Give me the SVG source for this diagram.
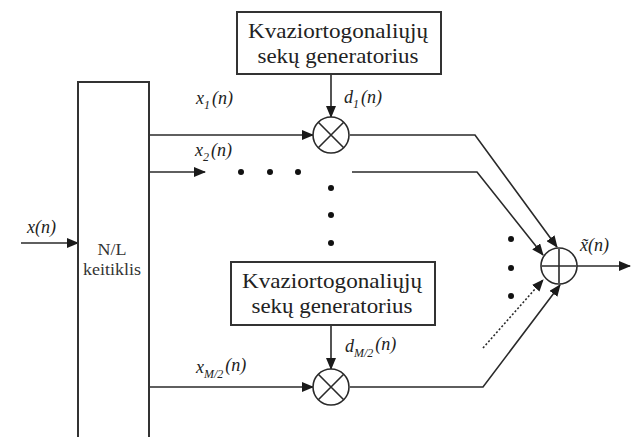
<svg xmlns="http://www.w3.org/2000/svg" width="634" height="437" viewBox="0 0 634 437">
<defs>
<marker id="ah" markerWidth="12" markerHeight="10" refX="11" refY="5" orient="auto" markerUnits="userSpaceOnUse">
<path d="M0,0 L12,5 L0,10 Z" fill="#1a1a1a"/>
</marker>
<style>
.box{fill:#fff;stroke:#333;stroke-width:2}
.ln{fill:none;stroke:#2a2a2a;stroke-width:1.6}
.dot{fill:#111}
.op{fill:#fff;stroke:#2a2a2a;stroke-width:1.6}
text{font-family:'Liberation Serif','DejaVu Serif',serif}
.bt{font-size:22px;fill:#222;text-anchor:middle}
.nt{font-size:17px;fill:#333;text-anchor:middle}
.m{font-style:italic;font-size:18px;fill:#222}
.s{font-size:12px}
</style>
</defs>
<rect width="634" height="437" fill="#fff"/>
<g id="connectors">
<line class="ln" x1="21" y1="243" x2="78" y2="243" marker-end="url(#ah)"/>
<line class="ln" x1="149" y1="135" x2="313" y2="135" marker-end="url(#ah)"/>
<line class="ln" x1="149" y1="172" x2="205" y2="172" marker-end="url(#ah)"/>
<line class="ln" x1="149" y1="387" x2="313" y2="387" marker-end="url(#ah)"/>
<line class="ln" x1="331" y1="74" x2="331" y2="117" marker-end="url(#ah)"/>
<line class="ln" x1="331" y1="325" x2="331" y2="369" marker-end="url(#ah)"/>
<polyline class="ln" points="350,135 475,135 557,247" marker-end="url(#ah)"/>
<polyline class="ln" points="352,172 477,172 543,255" marker-end="url(#ah)"/>
<polyline class="ln" points="350,387 483,387 560,285" marker-end="url(#ah)"/>
<line class="ln" x1="483" y1="348" x2="543" y2="280" stroke-dasharray="2,2" marker-end="url(#ah)"/>
<line class="ln" x1="577" y1="266" x2="630" y2="266" marker-end="url(#ah)"/>
</g>
<g id="dots">
<circle class="dot" cx="241" cy="172" r="3"/>
<circle class="dot" cx="270" cy="172" r="3"/>
<circle class="dot" cx="298" cy="172" r="3"/>
<circle class="dot" cx="331" cy="188" r="3"/>
<circle class="dot" cx="331" cy="215" r="3"/>
<circle class="dot" cx="331" cy="243" r="3"/>
<circle class="dot" cx="511" cy="239" r="3"/>
<circle class="dot" cx="511" cy="268" r="3"/>
<circle class="dot" cx="511" cy="296" r="3"/>
</g>
<g id="converter">
<rect class="box" x="78" y="82" width="71" height="360"/>
<text class="nt" x="112" y="255" textLength="29" lengthAdjust="spacingAndGlyphs">N/L</text>
<text class="nt" x="112" y="275" textLength="58" lengthAdjust="spacingAndGlyphs">keitiklis</text>
</g>
<g id="gen1">
<rect class="box" x="237" y="12" width="204" height="62"/>
<text class="bt" x="338" y="38" textLength="180" lengthAdjust="spacingAndGlyphs">Kvaziortogonaliųjų</text>
<text class="bt" x="338" y="63" textLength="161" lengthAdjust="spacingAndGlyphs">sekų generatorius</text>
</g>
<g id="gen2">
<rect class="box" x="231" y="262" width="204" height="63"/>
<text class="bt" x="332" y="288" textLength="180" lengthAdjust="spacingAndGlyphs">Kvaziortogonaliųjų</text>
<text class="bt" x="332" y="313" textLength="161" lengthAdjust="spacingAndGlyphs">sekų generatorius</text>
</g>
<g id="mult1">
<circle class="op" cx="331" cy="135" r="18"/>
<path class="ln" d="M318.3,122.3 L343.7,147.7 M343.7,122.3 L318.3,147.7"/>
</g>
<g id="mult2">
<circle class="op" cx="331" cy="387" r="18"/>
<path class="ln" d="M318.3,374.3 L343.7,399.7 M343.7,374.3 L318.3,399.7"/>
</g>
<g id="sum">
<circle class="op" cx="559" cy="266" r="18"/>
<path class="ln" d="M559,249 L559,283 M542,266 L576,266" stroke-width="2"/>
</g>
<g id="labels">
<text class="m" x="27" y="233">x(n)</text>
<text class="m" x="196" y="104">x<tspan class="s" dy="5">1</tspan><tspan dy="-5" dx="2">(n)</tspan></text>
<text class="m" x="195" y="156">x<tspan class="s" dy="5">2</tspan><tspan dy="-5" dx="2">(n)</tspan></text>
<text class="m" x="344" y="103">d<tspan class="s" dy="5">1</tspan><tspan dy="-5" dx="2">(n)</tspan></text>
<text class="m" x="196" y="373">x<tspan class="s" dy="5">M/2</tspan><tspan dy="-7" dx="2">(n)</tspan></text>
<text class="m" x="345" y="352">d<tspan class="s" dy="5">M/2</tspan><tspan dy="-7" dx="2">(n)</tspan></text>
<text class="m" x="580" y="251">x̃(n)</text>
</g>
</svg>
